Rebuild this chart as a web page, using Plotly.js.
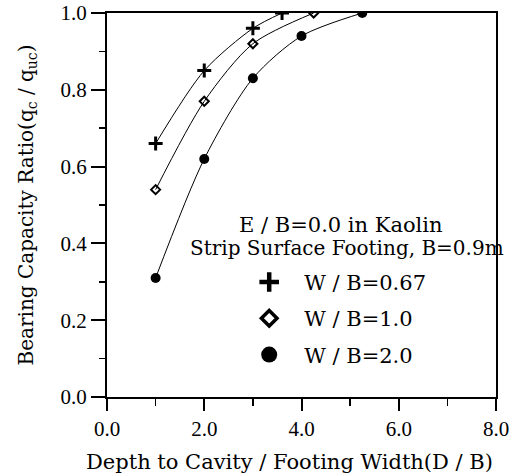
<!DOCTYPE html>
<html>
<head>
<meta charset="utf-8">
<script src="https://cdn.plot.ly/plotly-3.0.1.min.js"></script>
<style>html,body{margin:0;padding:0;background:#fff;}#chart{width:513px;height:475px;}</style>
</head>
<body>
<div id="chart"></div>
<script>
// Data
const dB_067 = [1.0, 2.0, 3.0, 3.6];
const ratio_067 = [0.66, 0.85, 0.96, 1.0];
const dB_10 = [1.0, 2.0, 3.0, 4.25];
const ratio_10 = [0.54, 0.77, 0.92, 1.0];
const dB_20 = [1.0, 2.0, 3.0, 4.0, 5.25];
const ratio_20 = [0.31, 0.62, 0.83, 0.94, 1.0];
const seriesNames = ['W / B=0.67', 'W / B=1.0', 'W / B=2.0'];
const xTitle = 'Depth to Cavity / Footing Width(D / B)';
const yTitle = 'Bearing Capacity Ratio(q<sub>c</sub> / q<sub>uc</sub>)';
const noteLines = ['E / B=0.0 in Kaolin', 'Strip Surface Footing, B=0.9m'];

const FONT = 'DejaVu Serif, Liberation Serif, serif';
const TICKFONT = 'Liberation Serif, DejaVu Serif, serif';
const lineStyle = {color: '#000', width: 1, shape: 'spline', smoothing: 0.8};

const series = [
  {x: dB_067, y: ratio_067, sym: 'cross-thin', size: 10, lw: 3, lsize: 14, lsym: 'cross-thin', llw: 4.5},
  {x: dB_10, y: ratio_10, sym: 'diamond-open', size: 7, lw: 2, lsize: 12, lsym: 'diamond-open', llw: 3.5},
  {x: dB_20, y: ratio_20, sym: 'circle', size: 10, lw: 0, lsize: 16, lsym: 'circle', llw: 0}
];

const traces = [];
series.forEach((s, i) => {
  traces.push({
    x: s.x, y: s.y, type: 'scatter', mode: 'lines+markers', showlegend: false,
    line: lineStyle,
    marker: {symbol: s.sym, size: s.size, color: '#000', line: {color: '#000', width: s.lw}}
  });
});
series.forEach((s, i) => {
  traces.push({
    x: [null], y: [null], type: 'scatter', mode: 'markers', name: seriesNames[i],
    legendgroup: 'g' + i, showlegend: true,
    marker: {symbol: s.lsym, size: s.lsize, color: '#000', line: {color: '#000', width: s.llw}}
  });
});

const layout = {
  width: 513, height: 475,
  margin: {l: 107, r: 17, t: 13, b: 78},
  paper_bgcolor: '#fff', plot_bgcolor: '#fff',
  font: {family: FONT, size: 20, color: '#000'},
  showlegend: true,
  legend: {x: 0.327, y: 0.352, xanchor: 'left', yanchor: 'top', bgcolor: 'rgba(0,0,0,0)',
           itemwidth: 60,
           font: {family: FONT, size: 21, color: '#000'}, tracegroupgap: 6},
  xaxis: {
    range: [0, 8], dtick: 2, tickformat: '.1f', showgrid: false, zeroline: false,
    showline: true, linecolor: '#000', linewidth: 2, mirror: true,
    ticks: 'outside', ticklen: 12, tickwidth: 2, tickcolor: '#000',
    ticklabelstandoff: 0,
    tickfont: {family: TICKFONT, size: 21},
    minor: {dtick: 1, ticks: 'outside', ticklen: 7, tickwidth: 1.5, tickcolor: '#000'}
  },
  xaxis2: {
    overlaying: 'x', side: 'top', range: [0, 8], dtick: 1, showgrid: false, zeroline: false,
    showline: false, ticks: 'inside', ticklen: 6, tickwidth: 1.5, tickcolor: '#000', showticklabels: false
  },
  yaxis: {
    range: [0, 1], dtick: 0.2, tickformat: '.1f', showgrid: false, zeroline: false,
    showline: true, linecolor: '#000', linewidth: 2, mirror: true,
    ticks: 'outside', ticklen: 14, tickwidth: 2, tickcolor: '#000',
    tickfont: {family: TICKFONT, size: 21},
    minor: {dtick: 0.1, ticks: 'outside', ticklen: 6, tickwidth: 1.5, tickcolor: '#000'},
    title: {text: yTitle, font: {family: FONT, size: 20}, standoff: 22}
  },
  annotations: [
    {xref: 'paper', yref: 'paper', x: 0.47, y: 0, yshift: -65, yanchor: 'middle', text: xTitle, showarrow: false, xanchor: 'center', font: {family: FONT, size: 21}},
    {xref: 'paper', yref: 'paper', x: 0.602, y: 0.448, yanchor: 'middle', text: noteLines[0], showarrow: false, xanchor: 'center', font: {family: FONT, size: 21}},
    {xref: 'paper', yref: 'paper', x: 0.617, y: 0.387, yanchor: 'middle', text: noteLines[1], showarrow: false, xanchor: 'center', font: {family: FONT, size: 20}}
  ]
};

Plotly.newPlot('chart', traces, layout, {displayModeBar: false, staticPlot: true});
</script>
</body>
</html>
